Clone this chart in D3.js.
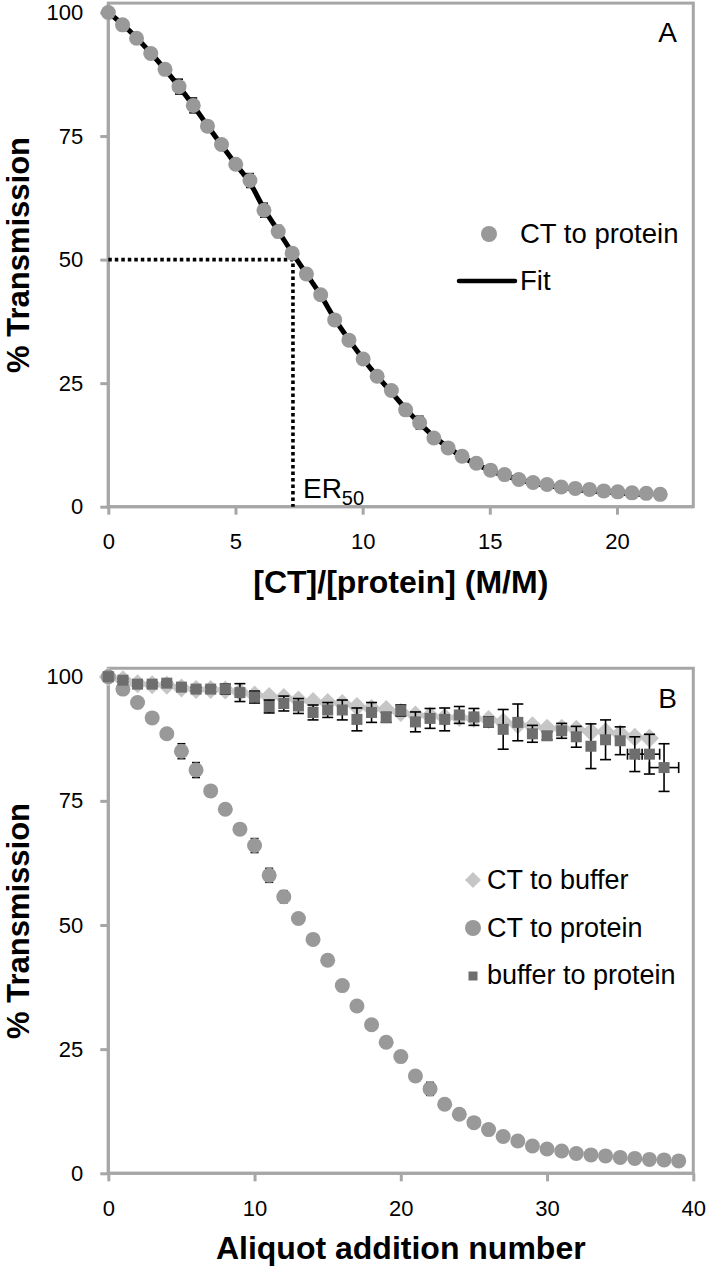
<!DOCTYPE html>
<html>
<head>
<meta charset="utf-8">
<script src="https://cdn.jsdelivr.net/npm/d3@7"></script>
<style>
  body { margin: 0; background: #fff; }
  svg { display: block; font-family: "Liberation Sans", Arial, sans-serif; }
</style>
</head>
<body>
<script>
// ---------- DATA ----------
const aliquot = [0,1,2,3,4,5,6,7,8,9,10,11,12,13,14,15,16,17,18,19,20,21,22,23,24,25,26,27,28,29,30,31,32,33,34,35,36,37,38,39];
const ratioA = [0,0.56,1.11,1.67,2.23,2.78,3.34,3.90,4.45,5.01,5.57,6.12,6.68,7.23,7.79,8.35,8.90,9.46,10.02,10.57,11.13,11.69,12.24,12.80,13.36,13.91,14.47,15.03,15.58,16.14,16.70,17.25,17.81,18.36,18.92,19.48,20.03,20.59,21.15,21.70];
const ctToProtein = [100,97.5,94.8,91.7,88.5,85.0,81.2,77.0,73.3,69.3,66.0,60.0,55.7,51.3,47.1,42.9,37.8,33.7,29.9,26.4,23.5,19.6,17.0,13.9,11.9,10.2,8.8,7.4,6.5,5.5,4.9,4.5,4.0,3.7,3.5,3.2,3.0,2.8,2.7,2.5];
const ctToProteinErr = [0,0.3,0.3,0.4,0.4,1.5,1.5,0.5,0.5,0.5,1.4,1.4,1.2,0.5,0.5,0.5,0.5,0.5,0.5,0.5,0.5,0.5,1.3,0.5,0.5,0.5,0.5,0.5,0.5,0.5,0.5,0.5,0.5,0.5,0.5,0.5,0.5,0.5,0.5,0.5];
const fitA = [100,97.6,94.9,91.8,88.5,85.0,81.2,77.1,73.2,69.3,65.5,60.3,55.8,51.4,47.1,42.8,38.0,33.8,29.9,26.4,23.2,19.8,16.9,14.2,12.0,10.1,8.6,7.3,6.3,5.5,4.8,4.3,3.9,3.5,3.2,3.0,2.8,2.6,2.4];
const ctToBuffer = [100,99.4,98.6,98.4,98.3,97.7,97.4,97.4,97.3,96.9,96.3,96.0,95.8,95.3,95.0,94.8,94.6,94.0,93.6,93.4,92.8,92.3,92.1,91.8,91.8,91.6,91.4,90.9,90.3,90.1,89.6,89.6,89.4,88.9,88.9,88.5,87.8,87.6];
const bufferToProtein = [100,99.3,98.5,98.5,98.7,97.9,97.5,97.5,97.5,96.8,95.9,94.0,94.6,94.1,92.8,93.3,93.3,91.4,92.8,91.8,93.2,90.9,91.6,91.4,92.3,91.9,90.9,89.4,90.8,88.5,88.1,89.1,87.9,86.0,87.3,87.1,84.4,84.4,81.7];
const bufferToProteinErr = [0,0.3,0.3,0.3,0.3,0.3,0.3,0.5,1.0,1.8,1.2,1.3,1.5,1.5,1.5,1.5,2.0,2.3,2.0,1.0,1.1,2.0,2.0,2.3,1.7,1.7,1.0,4.0,3.7,1.7,0.8,1.5,2.1,4.5,4.0,2.8,3.5,4.0,4.8];
const bufferToProteinXErr = [0,0,0,0,0,0,0,0,0,0,0,0,0,0,0,0,0,0,0,0,0,0,0,0,0,0,0,0,0,0,0,0,0,0,0,0,0.5,0.7,1.0];
const er50 = 7.26;
const yTicks = [0,25,50,75,100];
const xTicksA = [0,5,10,15,20];
const xTicksB = [0,10,20,30,40];
const legendA = ["CT to protein","Fit"];
const legendB = ["CT to buffer","CT to protein","buffer to protein"];

// ---------- STYLE ----------
const gray = "#a6a6a6";
const cCircle = "#999999", cDiamond = "#c6c6c6", cSquare = "#6e6e6e";

const svg = d3.select("body").append("svg").attr("width",708).attr("height",1268);

function drawFrame(x, y, topVal, xTicks, xTitle, yTitleCY, label, labelY) {
  const g = svg.append("g");
  const [x0, x1] = x.range();
  const yb = y(0), yt = y(topVal);
  g.append("rect").attr("x", x0).attr("y", yt).attr("width", x1 - x0).attr("height", yb - yt)
    .attr("fill", "none").attr("stroke", gray).attr("stroke-width", 3);
  const ya = g.append("g").attr("transform", `translate(${x0},0)`)
    .call(d3.axisLeft(y).tickValues(yTicks).tickSize(8).tickPadding(17));
  const xa = g.append("g").attr("transform", `translate(0,${yb})`)
    .call(d3.axisBottom(x).tickValues(xTicks).tickSize(8).tickPadding(19));
  [ya, xa].forEach(a => {
    a.select(".domain").remove();
    a.selectAll(".tick line").attr("stroke", gray).attr("stroke-width", 3);
    a.selectAll(".tick text").attr("fill", "#000").style("font-size", "22px")
      .style("font-family", '"Liberation Sans", Arial, sans-serif');
  });
  g.append("line").attr("x1", x0).attr("x2", x0).attr("y1", yt).attr("y2", yb + 1.5)
    .attr("stroke", gray).attr("stroke-width", 3);
  g.append("line").attr("x1", x0 - 1.5).attr("x2", x1).attr("y1", yb).attr("y2", yb)
    .attr("stroke", gray).attr("stroke-width", 3);
  g.append("text").attr("x", (x0 + x1) / 2).attr("y", yb + 86).attr("text-anchor", "middle")
    .style("font-size", "32px").style("font-weight", "bold").text(xTitle);
  g.append("text").attr("transform", `translate(29,${yTitleCY}) rotate(-90)`).attr("text-anchor", "middle")
    .style("font-size", "31px").style("font-weight", "bold").text("% Transmission");
  g.append("text").attr("x", 677).attr("y", labelY).attr("text-anchor", "end")
    .style("font-size", "28px").text(label);
  return g;
}

function errBars(g, x, y, xs, ys, es, capW, xes) {
  const eg = g.append("g").attr("stroke", "#000").attr("stroke-width", 1.6);
  ys.forEach((v, i) => {
    const e = es[i];
    if (e > 0) {
      const cx = x(xs[i]);
      eg.append("line").attr("x1", cx).attr("x2", cx).attr("y1", y(v + e)).attr("y2", y(v - e));
      [v + e, v - e].forEach(t => eg.append("line").attr("x1", cx - capW).attr("x2", cx + capW).attr("y1", y(t)).attr("y2", y(t)));
    }
    if (xes && xes[i] > 0) {
      const cy = y(v);
      eg.append("line").attr("x1", x(xs[i] - xes[i])).attr("x2", x(xs[i] + xes[i])).attr("y1", cy).attr("y2", cy);
      [xs[i] - xes[i], xs[i] + xes[i]].forEach(t => eg.append("line").attr("x1", x(t)).attr("x2", x(t)).attr("y1", cy - capW).attr("y2", cy + capW));
    }
  });
}

function diamondPath(cx, cy, r) {
  return `M${cx},${cy - r}L${cx + r},${cy}L${cx},${cy + r}L${cx - r},${cy}Z`;
}

// ---------- PANEL A ----------
const xA = d3.scaleLinear().domain([0, 23]).range([108.3, 693.3]);
const yA = d3.scaleLinear().domain([0, 100]).range([506.7, 12.5]);
const gA = drawFrame(xA, yA, 101.9, xTicksA, "[CT]/[protein] (M/M)", 255, "A", 42);

gA.append("path")
  .attr("d", `M${xA(0)},${yA(50)}H${xA(er50)}V${yA(0)}`)
  .attr("fill", "none").attr("stroke", "#000").attr("stroke-width", 3.6).attr("stroke-dasharray", "3.5,3");
const er = gA.append("text").attr("x", xA(er50) + 10).attr("y", yA(0) - 9).style("font-size", "28px");
er.append("tspan").text("ER");
er.append("tspan").attr("dy", 7).style("font-size", "20px").text("50");

gA.append("path").datum(fitA)
  .attr("d", d3.line().x((d, i) => xA(ratioA[i])).y(d => yA(d)).curve(d3.curveMonotoneX))
  .attr("fill", "none").attr("stroke", "#000").attr("stroke-width", 5);
errBars(gA, xA, yA, ratioA, ctToProtein, ctToProteinErr, 4);
gA.append("g").selectAll("circle").data(ctToProtein).join("circle")
  .attr("cx", (d, i) => xA(ratioA[i])).attr("cy", d => yA(d)).attr("r", 7.5).attr("fill", cCircle);

gA.append("circle").attr("cx", 489).attr("cy", 234).attr("r", 8).attr("fill", cCircle);
gA.append("text").attr("x", 520).attr("y", 243).style("font-size", "27.5px").text(legendA[0]);
gA.append("line").attr("x1", 459).attr("x2", 515).attr("y1", 281).attr("y2", 281)
  .attr("stroke", "#000").attr("stroke-width", 4.5).attr("stroke-linecap", "round");
gA.append("text").attr("x", 520).attr("y", 290).style("font-size", "27.5px").text(legendA[1]);

// ---------- PANEL B ----------
const xB = d3.scaleLinear().domain([0, 40]).range([108.3, 693.3]);
const yB = d3.scaleLinear().domain([0, 100]).range([1173.3, 676.7]);
const gB = drawFrame(xB, yB, 101.7, xTicksB, "Aliquot addition number", 921, "B", 708);

gB.append("g").selectAll("path").data(ctToBuffer).join("path")
  .attr("d", (d, i) => diamondPath(xB(aliquot[i]), yB(d), 9.5)).attr("fill", cDiamond);
errBars(gB, xB, yB, aliquot, ctToProtein, ctToProteinErr, 4);
gB.append("g").selectAll("circle").data(ctToProtein).join("circle")
  .attr("cx", (d, i) => xB(aliquot[i])).attr("cy", d => yB(d)).attr("r", 7.5).attr("fill", cCircle);
errBars(gB, xB, yB, aliquot, bufferToProtein, bufferToProteinErr, 5.5, bufferToProteinXErr);
gB.append("g").selectAll("rect").data(bufferToProtein).join("rect")
  .attr("x", (d, i) => xB(aliquot[i]) - 5.5).attr("y", d => yB(d) - 5.5)
  .attr("width", 11).attr("height", 11).attr("fill", cSquare);

gB.append("path").attr("d", diamondPath(473, 880, 8)).attr("fill", cDiamond);
gB.append("text").attr("x", 487).attr("y", 889).style("font-size", "27px").text(legendB[0]);
gB.append("circle").attr("cx", 473).attr("cy", 928).attr("r", 8).attr("fill", cCircle);
gB.append("text").attr("x", 487).attr("y", 936.5).style("font-size", "27px").text(legendB[1]);
gB.append("rect").attr("x", 468.5).attr("y", 971.5).attr("width", 9).attr("height", 9).attr("fill", cSquare);
gB.append("text").attr("x", 487).attr("y", 983.5).style("font-size", "27px").text(legendB[2]);
</script>
</body>
</html>
